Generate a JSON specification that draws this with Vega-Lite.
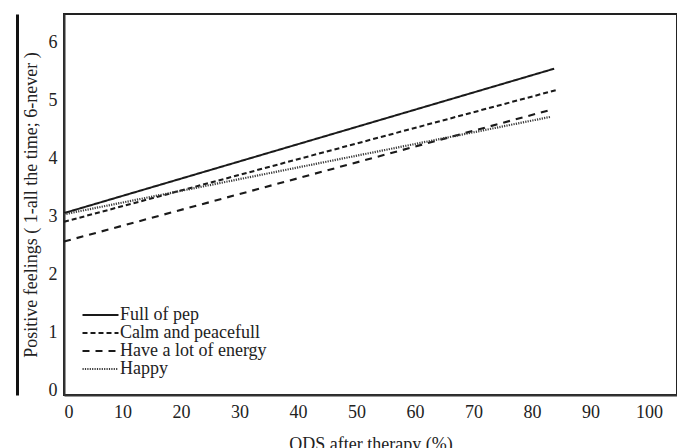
{
  "$schema": "https://vega.github.io/schema/vega-lite/v6.json",
  "autosize": {"type": "none"},
  "padding": {"left": 64, "top": 14, "right": 0, "bottom": 53},
  "width": 613,
  "height": 381,
  "background": "white",
  "config": {
    "font": "Liberation Serif",
    "view": {"stroke": "#222", "strokeWidth": 2},
    "axis": {"labelFont": "Liberation Serif", "titleFont": "Liberation Serif", "labelFontSize": 18, "titleFontSize": 18, "labelColor": "#222", "titleColor": "#222", "titleFontWeight": "normal", "grid": false, "ticks": false, "domainColor": "#333", "domainWidth": 2}
  },
  "data": {
    "values": [
      {"series": "Full of pep", "x": 0, "y": 3.05},
      {"series": "Full of pep", "x": 83.8, "y": 5.54},
      {"series": "Calm and peacefull", "x": 0, "y": 2.9},
      {"series": "Calm and peacefull", "x": 84.1, "y": 5.17},
      {"series": "Have a lot of energy", "x": 0, "y": 2.56},
      {"series": "Have a lot of energy", "x": 83.2, "y": 4.83},
      {"series": "Happy", "x": 0, "y": 3.03},
      {"series": "Happy", "x": 83.2, "y": 4.71}
    ]
  },
  "layer": [
    {
      "mark": {"type": "line"},
      "encoding": {
        "x": {"field": "x", "type": "quantitative", "scale": {"domain": [0, 104.8], "nice": false, "zero": false},
              "axis": {"values": [0,10,20,30,40,50,60,70,80,90,100], "title": "ODS after therapy (%)", "labelPadding": 8, "titlePadding": 14}},
        "y": {"field": "y", "type": "quantitative", "scale": {"domain": [-0.086, 6.483], "nice": false, "zero": false},
              "axis": {"values": [0,1,2,3,4,5,6], "title": "Positive feelings ( 1-all the time; 6-never )", "labelPadding": 7, "titlePadding": 8}},
        "strokeDash": {"field": "series", "type": "nominal",
          "scale": {"domain": ["Full of pep", "Calm and peacefull", "Have a lot of energy", "Happy"], "range": [[1, 0], [5, 3], [7, 6], [1.2, 1.2]]},
          "legend": {"title": null, "orient": "none", "legendX": 17, "legendY": 292, "symbolType": "stroke", "symbolSize": 1296, "clipHeight": 18, "rowPadding": 0, "labelFont": "Liberation Serif", "labelFontSize": 18, "labelColor": "#222", "labelOffset": 0, "padding": 0, "symbolStrokeWidth": 1.8}},
        "color": {"field": "series", "type": "nominal",
          "scale": {"domain": ["Full of pep", "Calm and peacefull", "Have a lot of energy", "Happy"], "range": ["#1a1a1a", "#1a1a1a", "#1a1a1a", "#3a3a3a"]}},
        "strokeWidth": {"field": "series", "type": "nominal",
          "scale": {"domain": ["Full of pep", "Calm and peacefull", "Have a lot of energy", "Happy"], "range": [2, 2.2, 2.4, 1.5]}}
      }
    },
    {
      "mark": {"type": "line", "opacity": 0},
      "encoding": {
        "x": {"field": "x", "type": "quantitative"},
        "y": {"field": "y", "type": "quantitative",
              "axis": {"orient": "left", "offset": 47, "labels": false, "ticks": false, "title": null, "domainWidth": 3, "domainColor": "#111"}},
        "detail": {"field": "series"}
      }
    }
  ],
  "resolve": {"axis": {"y": "independent"}}
}
